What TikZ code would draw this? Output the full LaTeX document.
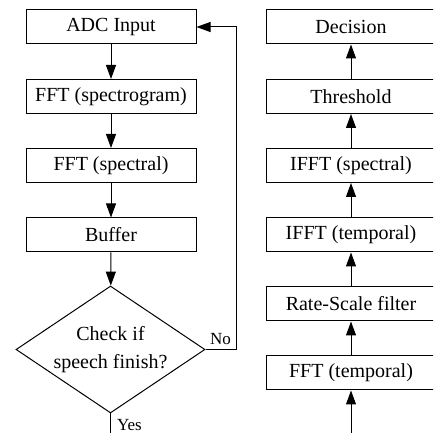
\documentclass[tikz,border=0pt]{standalone}
\usepackage{fontspec}
\setmainfont{Liberation Serif}
\usetikzlibrary{shapes.geometric,arrows.meta}
\tikzset{
stage/.style={draw, minimum width=170pt, minimum height=34pt, inner sep=0pt,
  font=\fontsize{20}{24}\selectfont},
check/.style={draw, diamond, aspect=1.49, minimum width=189pt, minimum height=127pt,
  inner sep=0pt, align=center, font=\fontsize{20}{28}\selectfont},
tag/.style={inner sep=0pt, font=\fontsize{17}{20}\selectfont},
>={Triangle[length=14pt,width=10pt]},
flow/.style={->}
}

\begin{document}
\begin{tikzpicture}[x=1pt,y=1pt,line width=1pt]
\useasboundingbox (0,0) rectangle (433,433);
\clip (0,0) rectangle (433,433);
  \node[stage] (adc) at (111,406) {ADC Input};
  \node[stage] (fftgram) at (111,336.5) {FFT (spectrogram)};
  \node[stage] (fftspec) at (111,267.5) {FFT (spectral)};
  \node[stage] (buffer) at (111,198) {Buffer};
  \node[check] (check) at (110.5,83.5) {Check if\\speech finish?};

  \node[stage] (decision) at (351,406) {Decision};
  \node[stage] (thresh) at (351,336.5) {Threshold};
  \node[stage] (ifftspec) at (351,267.5) {IFFT (spectral)};
  \node[stage] (iffttemp) at (351,198) {IFFT (temporal)};
  \node[stage] (ratescale) at (351,129) {Rate-Scale filter};
  \node[stage] (ffttemp) at (351,60) {FFT (temporal)};

  \coordinate (loop) at (236,406);
  \coordinate (out) at (110.5,-7);
  \coordinate (in) at (351,-7);

\draw[flow] (adc) -- (fftgram);
\draw[flow] (fftgram) -- (fftspec);
\draw[flow] (fftspec) -- (buffer);
\draw[flow] (buffer) -- (check);
\draw[flow] (check.east) -| (loop) -- (adc.east);
\draw (check.south) -- (out);

\draw[flow] (in) -- (ffttemp.south);
\draw[flow] (ffttemp) -- (ratescale);
\draw[flow] (ratescale) -- (iffttemp);
\draw[flow] (iffttemp) -- (ifftspec);
\draw[flow] (ifftspec) -- (thresh);
\draw[flow] (thresh) -- (decision);

  \node[tag, anchor=south west] (no) at ([xshift=4pt, yshift=4pt]check.east) {No};
  \node[tag, anchor=north west] (yes) at ([xshift=6pt, yshift=-5pt]check.south) {Yes};
\end{tikzpicture}
\end{document}
